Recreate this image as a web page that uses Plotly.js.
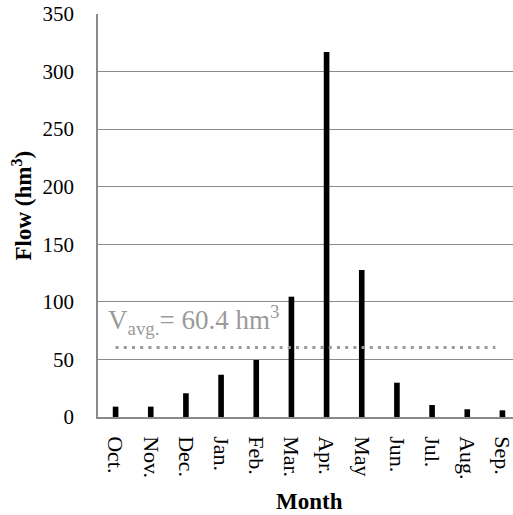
<!DOCTYPE html>
<html>
<head>
<meta charset="utf-8">
<script src="https://cdn.plot.ly/plotly-3.0.1.min.js"></script>
<style>
  html, body { margin: 0; padding: 0; overflow: hidden; background: #fff; }
</style>
</head>
<body>
<div id="chart"></div>
<script>
// Monthly flow over a hydrological year (October to September), in hm³
const months = ['Oct.', 'Nov.', 'Dec.', 'Jan.', 'Feb.', 'Mar.', 'Apr.', 'May', 'Jun.', 'Jul.', 'Aug.', 'Sep.'];
const flow = [9, 9, 20.6, 36.7, 49.5, 104.5, 317, 127.7, 29.8, 10.4, 6.7, 5.8];
const avgFlow = 60.4;
const yTicks = [0, 50, 100, 150, 200, 250, 300, 350];

const FONT_FAMILY = '"Liberation Serif", serif';
const GRID_GRAY = '#8a8a8a';
const AVG_GRAY = '#9a9a9a';

const traces = [{
  type: 'bar',
  x: months,
  y: flow,
  width: 0.16,
  marker: { color: '#000000', line: { width: 0 } },
  hoverinfo: 'x+y'
}];

const layout = {
  width: 522,
  height: 515,
  margin: { l: 98, r: 2, t: 14, b: 98 },
  paper_bgcolor: '#ffffff',
  plot_bgcolor: '#ffffff',
  showlegend: false,
  font: { family: FONT_FAMILY, size: 21, color: '#000000' },
  xaxis: {
    type: 'category',
    categoryorder: 'array',
    categoryarray: months,
    tickangle: 90,
    ticks: '',
    ticklabelstandoff: 13,
    tickfont: { size: 22 },
    showline: true,
    linecolor: GRID_GRAY,
    linewidth: 1.5,
    showgrid: false,
    zeroline: false,
    fixedrange: true
  },
  yaxis: {
    range: [0, 350],
    tickvals: yTicks,
    ticktext: yTicks.map(String),
    ticks: '',
    ticklabelstandoff: 18,
    tickfont: { size: 21 },
    showline: true,
    linecolor: GRID_GRAY,
    linewidth: 1.5,
    showgrid: true,
    gridcolor: GRID_GRAY,
    gridwidth: 1.2,
    zeroline: false,
    fixedrange: true
  },
  shapes: [{
    // dotted line marking the mean monthly flow
    type: 'line',
    xref: 'x', yref: 'y',
    x0: 0, x1: 10.8,
    y0: avgFlow, y1: avgFlow,
    line: { color: AVG_GRAY, width: 3, dash: '3px,5.2px' }
  }],
  annotations: [
    {
      xref: 'paper', yref: 'y',
      x: 0.02, y: avgFlow,
      xanchor: 'left', yanchor: 'bottom',
      yshift: 6,
      showarrow: false,
      text: 'V<sub>avg.</sub>= ' + avgFlow.toFixed(1) + ' hm<sup>3</sup>',
      font: { size: 27, color: AVG_GRAY }
    },
    {
      xref: 'paper', yref: 'paper',
      x: 0.5, y: 0,
      xanchor: 'center', yanchor: 'middle',
      yshift: -84,
      showarrow: false,
      text: '<b>Month</b>',
      font: { size: 23 }
    },
    {
      xref: 'paper', yref: 'paper',
      x: 0, y: 0.5,
      xanchor: 'center', yanchor: 'middle',
      xshift: -76, yshift: 10,
      textangle: -90,
      showarrow: false,
      text: '<b>Flow (hm<sup>3</sup>)</b>',
      font: { size: 23 }
    }
  ]
};

Plotly.newPlot('chart', traces, layout, { displayModeBar: false });
</script>
</body>
</html>
